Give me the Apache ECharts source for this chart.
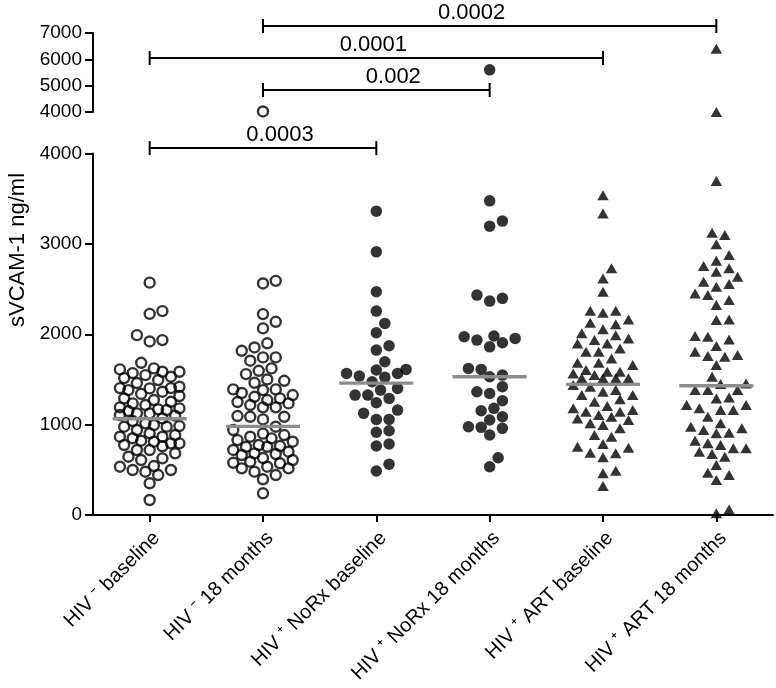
<!DOCTYPE html>
<html><head><meta charset="utf-8">
<script src="https://cdn.jsdelivr.net/npm/echarts@6/dist/echarts.min.js"></script>
<style>html,body{margin:0;padding:0;background:#fff}#c{width:776px;height:688px}</style>
</head><body><div id="c"></div>
<script>
// ---------------- DATA ----------------
const categories = ['HIV \u207B baseline', 'HIV \u207B 18 months', 'HIV \u207A NoRx baseline', 'HIV \u207A NoRx 18 months', 'HIV \u207A ART baseline', 'HIV \u207A ART 18 months'];

const hivNegBaseline = [2571, 2256, 2226, 1990, 1920, 1935, 1611, 1570, 1585, 1684, 1622, 1585, 1548, 1515, 1493, 1401, 1404, 1419, 1382, 1404, 1364, 1316, 1253, 1290, 1272, 1235, 1217, 1169, 1191, 1161, 1180, 1106, 1125, 1125, 1069, 1014, 977, 995, 977, 984, 940, 866, 885, 904, 866, 793, 811, 774, 793, 822, 719, 682, 719, 645, 627, 542, 608, 534, 498, 498, 442, 479, 351, 166, 1460, 1340, 1040, 1100, 850, 760, 1530, 1150];
const hivNeg18m = [4020, 2591, 2562, 2223, 2138, 2065, 1900, 1817, 1854, 1744, 1707, 1744, 1596, 1622, 1559, 1500, 1463, 1485, 1390, 1390, 1382, 1308, 1327, 1272, 1290, 1235, 1191, 1191, 1217, 1087, 1058, 1087, 1095, 977, 940, 866, 885, 848, 811, 829, 755, 774, 755, 763, 682, 700, 664, 675, 590, 608, 572, 578, 516, 534, 479, 516, 442, 395, 240, 1350, 1250, 900, 720, 630];
const hivPosNoRxBaseline = [3362, 2912, 2470, 2256, 2120, 2016, 1825, 1873, 1611, 1567, 1604, 1696, 1523, 1537, 1567, 1474, 1401, 1382, 1327, 1290, 1242, 1327, 1125, 1161, 1058, 1058, 932, 915, 785, 763, 561, 487];
const hivPosNoRx18m = [5600, 3476, 3252, 3196, 2433, 2367, 2397, 1954, 1980, 1972, 1935, 1906, 1861, 1622, 1611, 1530, 1548, 1419, 1364, 1345, 1264, 1180, 1154, 1087, 1051, 977, 959, 970, 885, 634, 534];
const hivPosArtBaseline = [3539, 3337, 2729, 2618, 2470, 2260, 2260, 2238, 2164, 2112, 2054, 2127, 1990, 2010, 1954, 1935, 1899, 1899, 1843, 1806, 1806, 1733, 1684, 1684, 1659, 1604, 1585, 1585, 1548, 1512, 1567, 1512, 1512, 1512, 1438, 1419, 1382, 1364, 1327, 1327, 1280, 1253, 1206, 1180, 1143, 1161, 1143, 1087, 1106, 1069, 1051, 995, 959, 1014, 866, 885, 785, 744, 755, 682, 689, 638, 490, 461, 321];
const hivPosArt18m = [6400, 4000, 3697, 3097, 3122, 2997, 2876, 2813, 2729, 2754, 2691, 2636, 2555, 2580, 2525, 2452, 2433, 2378, 2323, 2164, 2157, 1943, 1972, 1980, 1806, 1869, 1758, 1751, 1770, 1659, 1530, 1449, 1456, 1382, 1382, 1382, 1290, 1301, 1217, 1217, 1161, 1180, 1161, 1087, 959, 1014, 977, 904, 910, 940, 793, 774, 822, 700, 738, 645, 675, 738, 553, 442, 387, 468, 20, 60];

const medians = [1065, 980, 1460, 1530, 1445, 1430];

const upperTicks = [4000, 5000, 6000, 7000];
const lowerTicks = [0, 1000, 2000, 3000, 4000];

const comparisonFrom = [1, 0, 1, 0];
const comparisonTo = [5, 4, 3, 2];
const comparisonP = ['0.0002', '0.0001', '0.002', '0.0003'];

const yAxisTitle = 'sVCAM-1 ng/ml';

// ---------------- LAYOUT / STYLE ----------------
const groups = [hivNegBaseline, hivNeg18m, hivPosNoRxBaseline, hivPosNoRx18m, hivPosArtBaseline, hivPosArt18m];
const FONT = '"Liberation Sans", Arial, Helvetica, sans-serif';
const GRID_LEFT = 93, GRID_W = 680;
const UP_TOP = 33, UP_H = 79, LO_TOP = 153.5, LO_H = 361.5;
const BREAK = 4000;
const bracketLevels = [7265, 6050, 4835, 2630]; // in upper-axis units (layout)
const bracketLabelShift = [-18, -3, 17, 17];

const symbolStyles = [
  {symbol: 'circle', symbolSize: 10, itemStyle: {color: 'transparent', borderColor: '#000', borderWidth: 2.4}},
  {symbol: 'circle', symbolSize: 10, itemStyle: {color: 'transparent', borderColor: '#000', borderWidth: 2.4}},
  {symbol: 'circle', symbolSize: 11.5, itemStyle: {color: '#000'}},
  {symbol: 'circle', symbolSize: 11.5, itemStyle: {color: '#000'}},
  {symbol: 'triangle', symbolSize: [11.5, 10], itemStyle: {color: '#000'}},
  {symbol: 'triangle', symbolSize: [11.5, 10], itemStyle: {color: '#000'}}
];

const pxPerCat = GRID_W / categories.length;
const pxPerValLow = LO_H / (lowerTicks[lowerTicks.length - 1] - lowerTicks[0]);

// beeswarm placement (computed, not typed)
function swarmOffsets(values) {
  const D = 11, h = 4.25, maxK = 7;
  const order = values.map((v, i) => i).sort((a, b) => values[a] - values[b]);
  const placed = [];
  const offs = new Array(values.length).fill(0);
  for (const i of order) {
    const y = values[i] * pxPerValLow;
    let best = 0, bestD = -1;
    for (let k = 0; k <= 2 * maxK; k++) {
      const off = (k % 2 ? 1 : -1) * Math.ceil(k / 2) * h;
      let md = Infinity;
      for (const p of placed) { const d = Math.hypot(p.x - off, p.y - y); if (d < md) md = d; }
      if (md >= D) { best = off; break; }
      if (md > bestD) { bestD = md; best = off; }
    }
    placed.push({x: best, y});
    offs[i] = best / pxPerCat;
  }
  return offs;
}

const series = [];
groups.forEach((vals, gi) => {
  const low = vals.filter(v => v < BREAK);
  const high = vals.filter(v => v >= BREAK);
  const offs = swarmOffsets(low);
  series.push(Object.assign({
    type: 'scatter', xAxisIndex: 2, yAxisIndex: 1, clip: false, z: 3,
    emphasis: {disabled: true},
    data: low.map((v, i) => [gi + offs[i], v])
  }, symbolStyles[gi]));
  if (high.length) series.push(Object.assign({
    type: 'scatter', xAxisIndex: 0, yAxisIndex: 0, clip: false, z: 3,
    emphasis: {disabled: true},
    data: high.map(v => [gi, v])
  }, symbolStyles[gi]));
});

series.push({
  type: 'custom', xAxisIndex: 2, yAxisIndex: 1, z: 5, clip: false,
  encode: {x: 0, y: 1},
  data: medians.map((m, i) => [i, m]),
  renderItem(params, api) {
    const i = api.value(0), m = api.value(1);
    const a = api.coord([i - 0.327, m]), b = api.coord([i + 0.327, m]);
    return {type: 'line', shape: {x1: a[0], y1: a[1], x2: b[0], y2: b[1]}, style: {stroke: '#8c8c8c', lineWidth: 3.3}};
  }
});

series.push({
  type: 'custom', xAxisIndex: 0, yAxisIndex: 0, z: 5, clip: false,
  encode: {x: [0, 1], y: 2},
  data: comparisonFrom.map((f, i) => [f, comparisonTo[i], bracketLevels[i]]),
  renderItem(params, api) {
    const i = params.dataIndex;
    const a = api.coord([api.value(0), api.value(2)]);
    const b = api.coord([api.value(1), api.value(2)]);
    const st = {stroke: '#000', lineWidth: 2};
    return {type: 'group', children: [
      {type: 'line', shape: {x1: a[0], y1: a[1], x2: b[0], y2: b[1]}, style: st},
      {type: 'line', shape: {x1: a[0], y1: a[1] - 7, x2: a[0], y2: a[1] + 7}, style: st},
      {type: 'line', shape: {x1: b[0], y1: b[1] - 7, x2: b[0], y2: b[1] + 7}, style: st},
      {type: 'text', x: (a[0] + b[0]) / 2 + bracketLabelShift[i], y: a[1] - 13,
       style: {text: comparisonP[i], fill: '#000', font: '22px ' + FONT, align: 'center', verticalAlign: 'middle', textAlign: 'center', textVerticalAlign: 'middle'}}
    ]};
  }
});

const axisLineStyle = {show: true, onZero: false, lineStyle: {color: '#000', width: 2}};
const yLabel = {color: '#000', fontSize: 19, fontFamily: FONT, margin: 11, formatter: v => String(v)};

const option = {
  animation: false,
  backgroundColor: '#fff',
  grid: [
    {left: GRID_LEFT, width: GRID_W, top: UP_TOP, height: UP_H},
    {left: GRID_LEFT, width: GRID_W, top: LO_TOP, height: LO_H}
  ],
  xAxis: [
    {type: 'value', gridIndex: 0, min: -0.5, max: 5.5, show: false},
    {type: 'category', gridIndex: 1, data: categories, boundaryGap: true,
     axisLine: axisLineStyle,
     axisTick: {show: true, alignWithLabel: true, length: 7, lineStyle: {color: '#000', width: 2}},
     axisLabel: {rotate: 45, interval: 0, color: '#000', fontSize: 20, fontFamily: FONT, margin: 13, align: 'right', verticalAlign: 'top'},
     splitLine: {show: false}},
    {type: 'value', gridIndex: 1, min: -0.5, max: 5.5, show: false}
  ],
  yAxis: [
    {type: 'value', gridIndex: 0, min: upperTicks[0], max: upperTicks[upperTicks.length - 1], interval: 1000,
     axisLine: axisLineStyle, axisTick: {show: true, length: 8, lineStyle: {color: '#000', width: 2}},
     axisLabel: yLabel, splitLine: {show: false}},
    {type: 'value', gridIndex: 1, min: lowerTicks[0], max: lowerTicks[lowerTicks.length - 1], interval: 1000,
     axisLine: axisLineStyle, axisTick: {show: true, length: 8, lineStyle: {color: '#000', width: 2}},
     axisLabel: yLabel, splitLine: {show: false}}
  ],
  graphic: [{
    type: 'text', x: 18, y: 250, rotation: Math.PI / 2,
    style: {text: yAxisTitle, fill: '#000', font: '22px ' + FONT, align: 'center', verticalAlign: 'middle', textAlign: 'center', textVerticalAlign: 'middle'}
  }],
  series
};

const chart = echarts.init(document.getElementById('c'), null, {renderer: 'canvas'});
chart.setOption(option);
</script></body></html>
